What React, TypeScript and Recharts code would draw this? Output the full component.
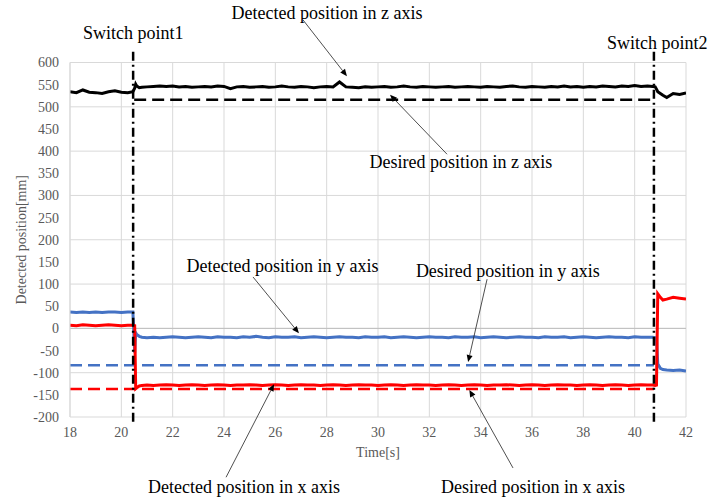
import React from 'react';
import { LineChart, Line, XAxis, YAxis, CartesianGrid, ReferenceLine, ReferenceDot } from 'recharts';

// ---- data ----
const timeS = [
  18.0, 18.25, 18.5, 18.75, 19.0, 19.25, 19.5, 19.75, 20.0, 20.25, 20.45,
  20.52, 20.56, 20.6, 20.7, 20.8,
  21.0, 21.25, 21.5, 21.75, 22.0, 22.25, 22.5, 22.75, 23.0, 23.25,
  23.5, 23.75, 24.0, 24.25, 24.5, 24.75, 25.0, 25.25, 25.5, 25.75,
  26.0, 26.25, 26.5, 26.75, 27.0, 27.25, 27.5, 27.75, 28.0, 28.25,
  28.5, 28.75, 29.0, 29.25, 29.5, 29.75, 30.0, 30.25, 30.5, 30.75,
  31.0, 31.25, 31.5, 31.75, 32.0, 32.25, 32.5, 32.75, 33.0, 33.25,
  33.5, 33.75, 34.0, 34.25, 34.5, 34.75, 35.0, 35.25, 35.5, 35.75,
  36.0, 36.25, 36.5, 36.75, 37.0, 37.25, 37.5, 37.75, 38.0, 38.25,
  38.5, 38.75, 39.0, 39.25, 39.5, 39.75, 40.0, 40.25, 40.5,
  40.7, 40.8, 40.85, 40.9, 41.0, 41.1,
  41.25, 41.5, 41.75, 42.0,
];

const zDetected = [
  534, 532, 538, 533, 532, 530, 534, 536, 533, 532, 534,
  542, 551, 547, 543, 544,
  545, 546, 547, 546, 547, 545, 546, 544, 545, 546,
  545, 547, 546, 541, 545, 546, 544, 545, 546, 544,
  545, 547, 545, 544, 546, 545, 543, 545, 546, 545,
  556, 545, 544, 543, 545, 544, 545, 546, 544, 545,
  547, 545, 544, 546, 545, 544, 545, 546, 544, 545,
  546, 545, 544, 546, 545, 544, 546, 547, 545, 544,
  546, 545, 544, 546, 545, 547, 545, 546, 544, 546,
  545, 547, 546, 545, 547, 546, 548, 546, 547,
  546, 545, 540, 534, 530, 526,
  521, 530, 528, 531,
];

const yDetected = [
  37, 36, 37, 36, 37, 36, 37, 37, 36, 37, 37,
  -55, -10, -14, -18, -20,
  -21, -20, -21, -20, -19, -20, -21, -20, -19, -20,
  -21, -19, -20, -20, -21, -19, -20, -18, -20, -21,
  -19, -20, -20, -19, -21, -20, -19, -20, -21, -20,
  -19, -20, -20, -21, -19, -20, -20, -19, -21, -20,
  -19, -20, -21, -20, -19, -20, -20, -21, -19, -20,
  -20, -19, -21, -20, -19, -20, -21, -20, -19, -20,
  -20, -21, -19, -20, -20, -19, -21, -20, -19, -20,
  -21, -20, -19, -20, -20, -21, -19, -20, -20,
  -20, -21, -22, -80, -90, -93,
  -94, -95, -94, -96,
];

const xDetected = [
  7, 6, 8, 7, 6, 7, 8, 7, 6, 7, 7,
  6, -136, -134, -130, -129,
  -128, -129, -128, -127, -128, -129, -128, -127, -128, -129,
  -128, -127, -128, -129, -128, -128, -127, -128, -129, -128,
  -127, -128, -129, -128, -127, -128, -128, -129, -128, -127,
  -128, -129, -128, -127, -128, -128, -129, -128, -127, -128,
  -129, -128, -127, -128, -128, -129, -128, -127, -128, -129,
  -128, -127, -128, -129, -128, -128, -127, -128, -129, -128,
  -127, -128, -129, -128, -127, -128, -128, -129, -128, -127,
  -128, -129, -128, -127, -128, -129, -128, -127, -128,
  -128, -129, -128, 78, 70, 64,
  66, 70, 68, 66,
];

const zDesiredTime = [20.5, 40.75];
const zDesiredValue = [516, 516];
const yDesiredTime = [18, 40.75];
const yDesiredValue = [-83, -83];
const xDesiredTime = [18, 40.75];
const xDesiredValue = [-137, -137];

const switchTimes = [20.46, 40.75];
const switchLabels = ['Switch point1', 'Switch point2'];
const switchLabelAt = [
  { t: 20.46, v: 653 },
  { t: 40.88, v: 630 },
];
const switchSpan = [624, -214];

const xTicks = [18, 20, 22, 24, 26, 28, 30, 32, 34, 36, 38, 40, 42];
const yTicks = [-200, -150, -100, -50, 0, 50, 100, 150, 200, 250, 300, 350, 400, 450, 500, 550, 600];

const annotationTexts = [
  'Detected position in z axis',
  'Desired position in z axis',
  'Detected position in y axis',
  'Desired position in y axis',
  'Detected position in x axis',
  'Desired position in x axis',
];
const annotationAt = [
  { t: 28.01, v: 698 },
  { t: 33.23, v: 362 },
  { t: 26.28, v: 127 },
  { t: 35.06, v: 116 },
  { t: 24.78, v: -372 },
  { t: 36.04, v: -372 },
];
const arrowFrom = [
  { t: 27.08, v: 696 },
  { t: 32.69, v: 393 },
  { t: 25.13, v: 116 },
  { t: 34.25, v: 111 },
  { t: 24.08, v: -336 },
  { t: 35.26, v: -315 },
];
const arrowTo = [
  { t: 28.79, v: 569 },
  { t: 30.47, v: 527 },
  { t: 26.92, v: -11 },
  { t: 33.51, v: -76 },
  { t: 25.95, v: -126 },
  { t: 33.56, v: -139 },
];

// ---- derived tables ----
const detectedData = timeS.map((t, i) => ({ t, z: zDetected[i], y: yDetected[i], x: xDetected[i] }));
const zDesiredData = zDesiredTime.map((t, i) => ({ t, v: zDesiredValue[i] }));
const yDesiredData = yDesiredTime.map((t, i) => ({ t, v: yDesiredValue[i] }));
const xDesiredData = xDesiredTime.map((t, i) => ({ t, v: xDesiredValue[i] }));

const SERIF = '"Liberation Serif", "Times New Roman", serif';
const BLUE = '#4472C4';
const RED = '#FF0000';

const ArrowShape = (p: any) => {
  const { x1, y1, x2, y2 } = p;
  const ang = Math.atan2(y2 - y1, x2 - x1);
  const L = 7;
  const W = 3;
  const bx = x2 - L * Math.cos(ang);
  const by = y2 - L * Math.sin(ang);
  const px = -Math.sin(ang) * W;
  const py = Math.cos(ang) * W;
  return (
    <g>
      <line x1={x1} y1={y1} x2={bx} y2={by} stroke="#222" strokeWidth={0.8} />
      <polygon points={`${x2},${y2} ${bx + px},${by + py} ${bx - px},${by - py}`} fill="#000" />
    </g>
  );
};

const textShape = (text: string) => (p: any) => (
  <text x={p.cx} y={p.cy} textAnchor="middle" fontFamily={SERIF} fontSize={18} fill="#000">
    {text}
  </text>
);

export default function App() {
  return (
    <div style={{ position: 'absolute', left: 0, top: 0, width: 728, height: 502, background: '#fff' }}>
      <LineChart
        width={728}
        height={502}
        margin={{ top: 62.5, right: 42, bottom: 55, left: 0 }}
      >
        <CartesianGrid stroke="#d9d9d9" strokeWidth={1} />
        <XAxis
          type="number"
          dataKey="t"
          domain={[18, 42]}
          ticks={xTicks}
          allowDataOverflow
          height={30}
          axisLine={false}
          tickLine={false}
          tickSize={0}
          tickMargin={10}
          tick={{ fill: '#595959', fontSize: 14, fontFamily: SERIF }}
          label={{
            content: (props: any) => {
              const vb = props.viewBox;
              return (
                <text x={vb.x + vb.width / 2} y={vb.y + 40} textAnchor="middle" fontFamily={SERIF} fontSize={14} fill="#595959">
                  Time[s]
                </text>
              );
            },
          }}
        />
        <YAxis
          type="number"
          domain={[-200, 600]}
          ticks={yTicks}
          allowDataOverflow
          width={70}
          axisLine={{ stroke: '#d9d9d9' }}
          tickLine={false}
          tickSize={0}
          tickMargin={11}
          tick={{ fill: '#595959', fontSize: 14, fontFamily: SERIF }}
          label={{
            content: (props: any) => {
              const vb = props.viewBox;
              const cx = vb.x + 21;
              const cy = vb.y + vb.height / 2;
              return (
                <text x={cx} y={cy} transform={`rotate(-90 ${cx} ${cy})`} textAnchor="middle" dominantBaseline="central" fontFamily={SERIF} fontSize={14} fill="#595959">
                  Detected position[mm]
                </text>
              );
            },
          }}
        />
        <ReferenceLine y={0} stroke="#bfbfbf" strokeWidth={1} />

        <Line data={yDesiredData} dataKey="v" type="linear" stroke={BLUE} strokeWidth={2.5} strokeDasharray="12 6" dot={false} isAnimationActive={false} />
        <Line data={xDesiredData} dataKey="v" type="linear" stroke={RED} strokeWidth={2.5} strokeDasharray="12 6" dot={false} isAnimationActive={false} />
        <Line data={zDesiredData} dataKey="v" type="linear" stroke="#000" strokeWidth={2.5} strokeDasharray="12 6" dot={false} isAnimationActive={false} />

        <Line data={detectedData} dataKey="y" type="linear" stroke={BLUE} strokeWidth={3} dot={false} isAnimationActive={false} />
        <Line data={detectedData} dataKey="x" type="linear" stroke={RED} strokeWidth={3} dot={false} isAnimationActive={false} />
        <Line data={detectedData} dataKey="z" type="linear" stroke="#000" strokeWidth={3} dot={false} isAnimationActive={false} />

        {switchTimes.map((t, i) => (
          <ReferenceLine
            key={`sw${i}`}
            segment={[{ x: t, y: switchSpan[0] }, { x: t, y: switchSpan[1] }]}
            ifOverflow="visible"
            stroke="#000"
            strokeWidth={2.5}
            strokeDasharray="9 4 2 4"
          />
        ))}
        {switchLabels.map((s, i) => (
          <ReferenceDot key={`swl${i}`} x={switchLabelAt[i].t} y={switchLabelAt[i].v} r={0} ifOverflow="visible" shape={textShape(s)} />
        ))}
        {annotationTexts.map((s, i) => (
          <ReferenceLine
            key={`ar${i}`}
            segment={[{ x: arrowFrom[i].t, y: arrowFrom[i].v }, { x: arrowTo[i].t, y: arrowTo[i].v }]}
            ifOverflow="visible"
            shape={ArrowShape}
          />
        ))}
        {annotationTexts.map((s, i) => (
          <ReferenceDot key={`an${i}`} x={annotationAt[i].t} y={annotationAt[i].v} r={0} ifOverflow="visible" shape={textShape(s)} />
        ))}
      </LineChart>
    </div>
  );
}
